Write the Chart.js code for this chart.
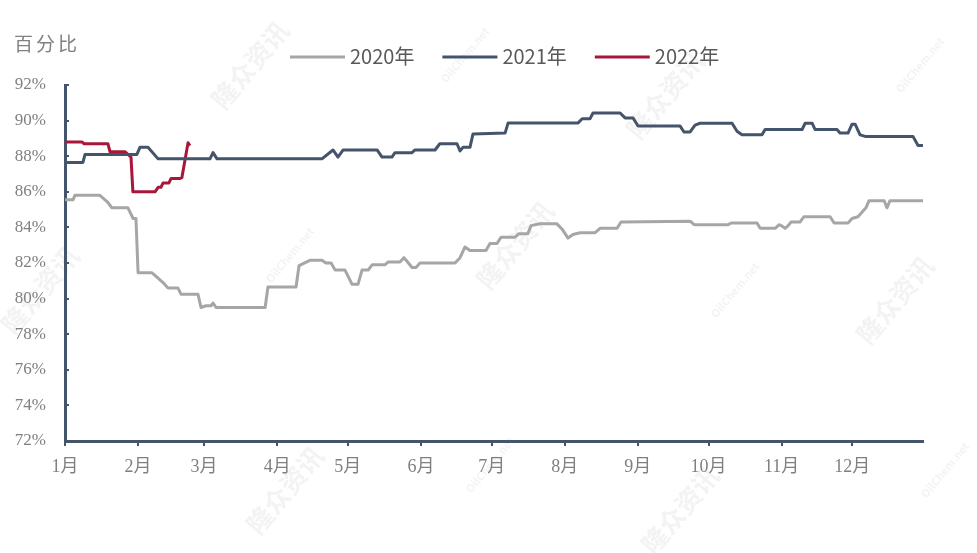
<!DOCTYPE html>
<html>
<head>
<meta charset="utf-8">
<script src="https://cdn.jsdelivr.net/npm/chart.js@4"></script>
<style>
  html, body { margin: 0; background: #fff; }
  #wrap { width: 977px; height: 553px; }
</style>
</head>
<body>
<div id="wrap"><canvas id="c" width="977" height="553"></canvas></div>
<script>
// 月份刻度（按一年中的第几天）
const monthStarts = [0, 31, 59, 90, 120, 151, 181, 212, 243, 273, 304, 334];
const monthLabels = ['1月', '2月', '3月', '4月', '5月', '6月', '7月', '8月', '9月', '10月', '11月', '12月'];
const yTicks = [72, 74, 76, 78, 80, 82, 84, 86, 88, 90, 92];

// 2020年
const days2020 = [0, 3.4, 4.2, 14.8, 18.2, 19.9, 26.7, 28.9, 30.1, 31, 36.9, 39, 41.6, 43.7, 47.9, 49.2, 56.4, 57.7,
  59.8, 62, 62.8, 64.1, 84.9, 86.1, 98, 99.3, 103.9, 109, 110.7, 112.9, 114.6, 118.8, 121.8, 124.3, 126, 128.6,
  130.3, 135.8, 137, 142.1, 143.8, 145.1, 147.2, 148.9, 150.6, 165.5, 167.6, 169.7, 171.8, 178.6, 180.3, 183.3,
  185, 190.9, 192.6, 196.4, 197.7, 201.5, 208.7, 210.9, 213.4, 215.5, 218.5, 224.9, 227, 234.2, 235.9, 265.2,
  266.9, 281.3, 282.6, 293.6, 294.9, 301.3, 302.9, 303.8, 305.5, 306.8, 308, 311.8, 313.5, 324.6, 326.3, 332.2,
  333.9, 336.4, 338.1, 339.8, 341.1, 347.5, 348.7, 350, 364];
const rate2020 = [85.55, 85.55, 85.8, 85.8, 85.4, 85.1, 85.1, 84.5, 84.5, 81.45, 81.45, 81.2, 80.9, 80.6, 80.6, 80.25, 80.25, 79.5,
  79.6, 79.6, 79.75, 79.5, 79.5, 80.65, 80.65, 81.85, 82.15, 82.15, 82, 82, 81.6, 81.6, 80.8, 80.8, 81.6, 81.6,
  81.9, 81.9, 82.05, 82.05, 82.3, 82.1, 81.75, 81.75, 82, 82, 82.3, 82.9, 82.7, 82.7, 83.1, 83.1,
  83.45, 83.45, 83.65, 83.65, 84.1, 84.2, 84.2, 83.9, 83.4, 83.6, 83.7, 83.7, 83.95, 83.95, 84.3, 84.35,
  84.15, 84.15, 84.25, 84.25, 83.95, 83.95, 84.15, 84.1, 83.95, 84.1, 84.3, 84.3, 84.6, 84.6, 84.25, 84.25,
  84.5, 84.6, 84.85, 85.1, 85.5, 85.5, 85.1, 85.5, 85.5];

// 2021年
const days2021 = [0, 7.6, 8.5, 30.5, 31.8, 35.2, 39.5, 61.5, 62.8, 64.5, 109, 113.7, 115.8, 118, 132.4, 134.5, 138.7,
  140, 147.2, 148.5, 157, 159, 166.3, 167.6, 168.9, 171.8, 173.1, 186.7, 188, 217.7, 219.4, 222.7, 224, 235.5,
  237.6, 241, 243.1, 260.9, 262.6, 265.2, 267.3, 269.4, 283, 285.1, 287.2, 295.7, 297, 312.7, 314, 317, 318.2,
  327.5, 328.8, 332.2, 333.9, 335.2, 337.3, 339.8, 359.8, 361.9, 364];
const rate2021 = [87.65, 87.65, 88.1, 88.1, 88.5, 88.5, 87.85, 87.85, 88.2, 87.85, 87.85, 88.35, 87.95, 88.35, 88.35, 87.95, 87.95,
  88.2, 88.2, 88.35, 88.35, 88.7, 88.7, 88.3, 88.5, 88.5, 89.25, 89.3, 89.87, 89.87, 90.1, 90.1, 90.43, 90.43,
  90.15, 90.15, 89.7, 89.7, 89.36, 89.36, 89.75, 89.85, 89.85, 89.4, 89.2, 89.2, 89.5, 89.5, 89.85, 89.85, 89.5,
  89.5, 89.3, 89.3, 89.8, 89.8, 89.2, 89.1, 89.1, 88.6, 88.6];

// 2022年
const days2022 = [0, 7.2, 8.1, 18.2, 19.1, 25.5, 26.7, 28, 28.4, 28.8, 38.2, 39.5, 40.7, 41.6, 44.1, 45, 48.8, 49.6, 52.2, 53];
const rate2022 = [88.8, 88.8, 88.7, 88.7, 88.25, 88.25, 88.1, 87.95, 87.95, 86, 86, 86.25, 86.25, 86.5, 86.5, 86.75, 86.75, 86.8, 88.75, 88.6];

const AXIS = '#44546a';
const TXT = '#808080';
const pts = (xs, ys) => xs.map((x, i) => ({ x, y: ys[i] }));

const watermarkPlugin = {
  id: 'watermark',
  beforeDraw(chart) {
    const ctx = chart.ctx;
    const marks = [
      ['隆众资讯', 250, 65, 26], ['隆众资讯', 665, 95, 26], ['隆众资讯', 40, 290, 26], ['隆众资讯', 515, 245, 26],
      ['隆众资讯', 895, 300, 26], ['隆众资讯', 285, 490, 26], ['隆众资讯', 680, 510, 26],
      ['OilChem.net', 465, 55, 11], ['OilChem.net', 920, 65, 11], ['OilChem.net', 290, 255, 11],
      ['OilChem.net', 735, 290, 11], ['OilChem.net', 490, 465, 11], ['OilChem.net', 945, 470, 11],
    ];
    ctx.save();
    ctx.fillStyle = 'rgba(150,150,150,0.11)';
    ctx.textAlign = 'center';
    ctx.textBaseline = 'middle';
    marks.forEach(([t, x, y, s]) => {
      ctx.save();
      ctx.translate(x, y);
      ctx.rotate(-50 * Math.PI / 180);
      ctx.font = `bold ${s}px "Noto Sans CJK SC", sans-serif`;
      ctx.fillText(t, 0, 0);
      ctx.restore();
    });
    ctx.restore();
  },
};

const headerPlugin = {
  id: 'header',
  afterDraw(chart) {
    const ctx = chart.ctx;
    ctx.save();
    // 单位
    ctx.fillStyle = TXT;
    ctx.font = '19px "Noto Sans CJK SC", sans-serif';
    ctx.letterSpacing = '3px';
    ctx.textBaseline = 'middle';
    ctx.textAlign = 'left';
    ctx.fillText('百分比', 14, 44);
    ctx.letterSpacing = '0px';
    // 图例
    ctx.font = '20px "Noto Sans CJK SC", sans-serif';
    let x = 290;
    chart.data.datasets.forEach((ds) => {
      ctx.strokeStyle = ds.borderColor;
      ctx.lineWidth = 3;
      ctx.beginPath();
      ctx.moveTo(x, 57);
      ctx.lineTo(x + 55, 57);
      ctx.stroke();
      ctx.fillStyle = '#595959';
      ctx.fillText(ds.label, x + 60, 56);
      x += 60 + ctx.measureText(ds.label).width + 28;
    });
    ctx.restore();
  },
};

new Chart(document.getElementById('c'), {
  type: 'line',
  data: {
    datasets: [
      { label: '2020年', data: pts(days2020, rate2020), borderColor: '#a6a6a6' },
      { label: '2021年', data: pts(days2021, rate2021), borderColor: AXIS },
      { label: '2022年', data: pts(days2022, rate2022), borderColor: '#a8173a' },
    ],
  },
  options: {
    responsive: false,
    animation: false,
    events: [],
    layout: { padding: { top: 85, right: 54, left: 0, bottom: 0 } },
    elements: {
      line: { borderWidth: 3, tension: 0, borderJoinStyle: 'round' },
      point: { radius: 0 },
    },
    plugins: { legend: { display: false }, tooltip: { enabled: false } },
    scales: {
      x: {
        type: 'linear',
        min: 0,
        max: 364,
        afterBuildTicks: (s) => { s.ticks = monthStarts.map((v) => ({ value: v })); },
        afterFit: (s) => { s.height = 112; },
        ticks: {
          autoSkip: false,
          maxRotation: 0,
          padding: 10,
          color: TXT,
          font: { family: '"Liberation Serif", "Noto Sans CJK SC", serif', size: 18 },
          callback: (v, i) => monthLabels[i],
        },
        grid: { drawOnChartArea: false, drawTicks: true, tickLength: 5, color: AXIS, lineWidth: 2 },
        border: { color: AXIS, width: 3 },
      },
      y: {
        min: 72,
        max: 92,
        afterBuildTicks: (s) => { s.ticks = yTicks.map((v) => ({ value: v })); },
        afterFit: (s) => { s.width = 65; },
        ticks: {
          padding: 23,
          color: TXT,
          font: { family: '"Liberation Serif", serif', size: 17 },
          callback: (v) => v + '%',
        },
        grid: { drawOnChartArea: false, drawTicks: true, tickLength: -4, color: AXIS, lineWidth: 2 },
        border: { color: AXIS, width: 3 },
      },
    },
  },
  plugins: [watermarkPlugin, headerPlugin],
});
</script>
</body>
</html>
